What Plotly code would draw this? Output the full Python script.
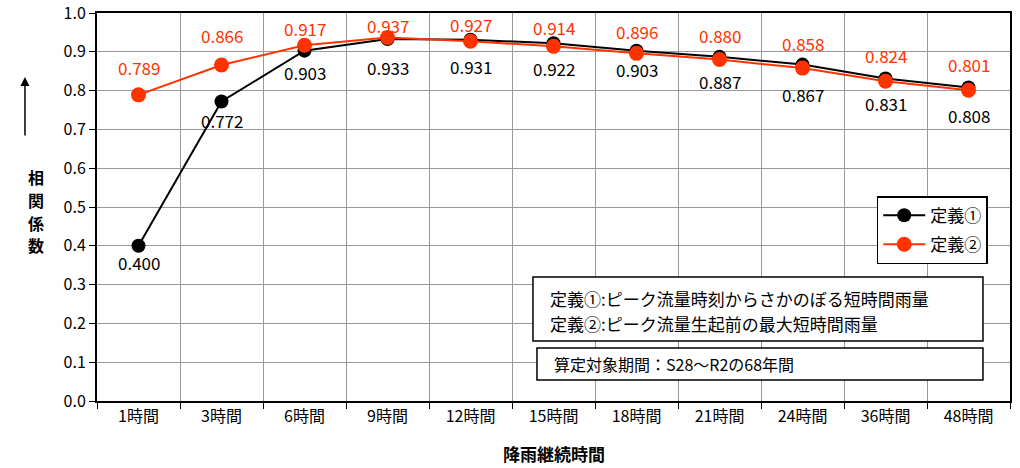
import plotly.graph_objects as go

categories = ["1時間", "3時間", "6時間", "9時間", "12時間", "15時間",
              "18時間", "21時間", "24時間", "36時間", "48時間"]
def1 = [0.400, 0.772, 0.903, 0.933, 0.931, 0.922, 0.903, 0.887, 0.867, 0.831, 0.808]
def2 = [0.789, 0.866, 0.917, 0.937, 0.927, 0.914, 0.896, 0.880, 0.858, 0.824, 0.801]
y_ticks = [0.0, 0.1, 0.2, 0.3, 0.4, 0.5, 0.6, 0.7, 0.8, 0.9, 1.0]
y_title_chars = ["相", "関", "係", "数"]
note_lines = ["定義①:ピーク流量時刻からさかのぼる短時間雨量", "定義②:ピーク流量生起前の最大短時間雨量"]
period_note = "算定対象期間：S28～R2の68年間"

# label offsets in px (as placed in the original)
def1_label_off = [17, 19, 22, 28, 27, 25, 19, 25, 30, 25, 28]
def2_label_off = [27, 29, 17, 12, 17, 19, 22, 24, 25, 26, 26]

FONT = "Noto Sans CJK JP"
BLACK = "#000000"
RED = "#FF3300"

fig = go.Figure()
fig.add_trace(go.Scatter(
    x=categories, y=def1, name="定義①", mode="lines+markers", legendgroup="a",
    line=dict(color=BLACK, width=2), marker=dict(color=BLACK, size=14),
))
fig.add_trace(go.Scatter(
    x=categories, y=def2, name="定義②", mode="lines+markers", legendgroup="b",
    line=dict(color=RED, width=2), marker=dict(color=RED, size=15),
))

# data labels: black below, red above
annotations = []
for c, v, off in zip(categories, def1, def1_label_off):
    annotations.append(dict(x=c, y=v, xref="x", yref="y", text=f"{v:.3f}", showarrow=False,
                            yshift=-off, font=dict(family=FONT, size=17, color=BLACK)))
for c, v, off in zip(categories, def2, def2_label_off):
    annotations.append(dict(x=c, y=v, xref="x", yref="y", text=f"{v:.3f}", showarrow=False,
                            yshift=off, font=dict(family=FONT, size=17, color=RED)))

# y title (vertical, one char per line) and arrow
for i, ch in enumerate(y_title_chars):
    annotations.append(dict(x=-0.0778, y=0.577 - i * 0.0585, xref="paper", yref="paper",
                            yanchor="middle", text=f"<b>{ch}</b>", showarrow=False,
                            font=dict(family=FONT, size=16, color=BLACK)))
annotations.append(dict(x=-0.0789, y=0.835, xref="paper", yref="paper", ax=0, ay=60,
                        axref="pixel", ayref="pixel", text="", showarrow=True,
                        arrowhead=2, arrowsize=1.2, arrowwidth=1.5, arrowcolor=BLACK))

# note boxes
shapes = [
    dict(type="rect", xref="paper", yref="paper", x0=0.4775, x1=0.9704, y0=0.1546, y1=0.3196,
         line=dict(color=BLACK, width=1.5), fillcolor="white", layer="above"),
    dict(type="rect", xref="paper", yref="paper", x0=0.4819, x1=0.9704, y0=0.0541, y1=0.1366,
         line=dict(color=BLACK, width=1.5), fillcolor="white", layer="above"),
]
for i, line in enumerate(note_lines):
    annotations.append(dict(x=0.494, y=0.2629 - i * 0.0619, xref="paper", yref="paper",
                            xanchor="left", yanchor="middle", text=line, showarrow=False,
                            font=dict(family=FONT, size=17, color=BLACK)))
annotations.append(dict(x=0.498, y=0.0954, xref="paper", yref="paper", xanchor="left",
                        yanchor="middle", text=period_note, showarrow=False,
                        font=dict(family=FONT, size=16, color=BLACK)))
annotations.append(dict(x=0.5, y=-0.135, xref="paper", yref="paper", yanchor="middle",
                        text="<b>降雨継続時間</b>", showarrow=False,
                        font=dict(family=FONT, size=17, color=BLACK)))

fig.update_layout(
    width=1020, height=468,
    margin=dict(l=97, r=10, t=13, b=67),
    paper_bgcolor="white", plot_bgcolor="white",
    font=dict(family=FONT, size=15, color=BLACK),
    annotations=annotations, shapes=shapes,
    legend=dict(x=0.854, y=0.528, xanchor="left", yanchor="top", traceorder="grouped",
                bgcolor="white", bordercolor=BLACK, borderwidth=1.5, itemwidth=42,
                font=dict(family=FONT, size=17), tracegroupgap=4),
)
fig.update_xaxes(
    type="category", range=[-0.5, 10.5], tickson="boundaries",
    showgrid=True, gridcolor="#999999", gridwidth=1,
    showline=True, linecolor=BLACK, linewidth=2, mirror=True,
    ticks="outside", ticklen=6, tickcolor=BLACK, automargin=False,
    tickfont=dict(family=FONT, size=16),
)
fig.update_yaxes(
    range=[0, 1.0], tickvals=y_ticks, tickformat=".1f",
    showgrid=True, gridcolor="#999999", gridwidth=1,
    showline=True, linecolor=BLACK, linewidth=2, mirror=True,
    ticks="outside", ticklen=6, tickcolor=BLACK, automargin=False,
    ticklabeloverflow="allow",
    tickfont=dict(family=FONT, size=16), zeroline=False,
)

fig.write_html("out.html", config={"displayModeBar": False},
               post_script="document.body.style.margin='0';")
